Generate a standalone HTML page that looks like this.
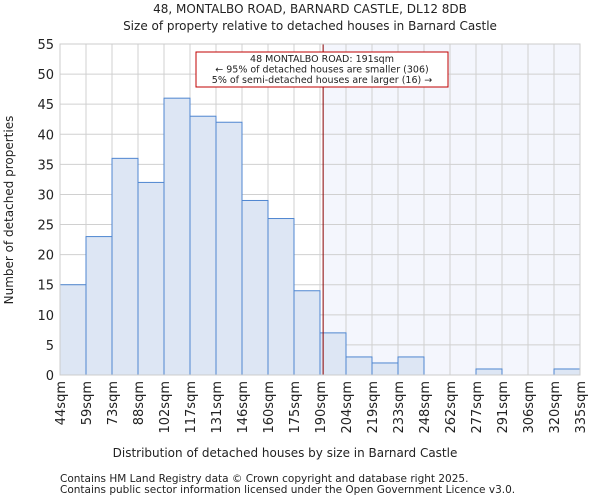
<!DOCTYPE html>
<html><head><meta charset="utf-8"><style>
body{margin:0;background:#fff;font-family:"DejaVu Sans","Liberation Sans",sans-serif}
svg text{font-family:"DejaVu Sans","Liberation Sans",sans-serif;fill:#222}
</style></head><body>
<svg id="c" width="600" height="500" xmlns="http://www.w3.org/2000/svg">
<text x="310" y="13" font-size="12" text-anchor="middle">48, MONTALBO ROAD, BARNARD CASTLE, DL12 8DB</text>
<text x="310" y="30" font-size="12" text-anchor="middle">Size of property relative to detached houses in Barnard Castle</text>
<g id="plot"></g>
<text x="285" y="457" font-size="12" text-anchor="middle">Distribution of detached houses by size in Barnard Castle</text>
<text transform="translate(13,210) rotate(-90)" font-size="12" text-anchor="middle">Number of detached properties</text>
<text x="60" y="482" font-size="10.5">Contains HM Land Registry data © Crown copyright and database right 2025.</text>
<text x="60" y="493" font-size="10.5">Contains public sector information licensed under the Open Government Licence v3.0.</text>
</svg>
<script>
const categories=["44sqm","59sqm","73sqm","88sqm","102sqm","117sqm","131sqm","146sqm","160sqm","175sqm","190sqm","204sqm","219sqm","233sqm","248sqm","262sqm","277sqm","291sqm","306sqm","320sqm","335sqm"];
const counts=[15,23,36,32,46,43,42,29,26,14,7,3,2,3,0,0,1,0,0,1];
const yTicks=[0,5,10,15,20,25,30,35,40,45,50,55];
const propertyBin=10.12;
const X0=60,X1=580,Y0=375,Y1=44,YMAX=55;
const bw=(X1-X0)/counts.length;
const x=i=>X0+i*bw;
const y=v=>Y0-(v/YMAX)*(Y0-Y1);
const NS="http://www.w3.org/2000/svg";
const g=document.getElementById('plot');
function mk(t,a){const e=document.createElementNS(NS,t);for(const k in a)e.setAttribute(k,a[k]);g.appendChild(e);return e;}
const px=x(propertyBin);
let e=mk('rect',{x:px,y:Y1,width:X1-px,height:Y0-Y1,fill:'#f4f6fd'});


for(const t of yTicks){e=mk('line',{x1:X0,x2:X1,y1:y(t),y2:y(t),stroke:'#d0d0d0'});


e=mk('text',{x:X0-6,y:y(t)+5,'font-size':13,'text-anchor':'end'});e.textContent=t;

}
for(let i=0;i<=counts.length;i++){e=mk('line',{x1:x(i),x2:x(i),y1:Y1,y2:Y0,stroke:'#d0d0d0'});


e=mk('text',{transform:`translate(${x(i)+5},${Y0+6}) rotate(-90)`,'font-size':13,'text-anchor':'end'});e.textContent=categories[i];

}
counts.forEach((v,i)=>{if(v<=0)return;e=mk('rect',{x:x(i),y:y(v),width:bw,height:Y0-y(v),fill:'#dde6f4',stroke:'#4f86d0','stroke-width':1});

});
e=mk('line',{x1:px,x2:px,y1:Y1,y2:Y0,stroke:'#8b0000','stroke-width':1});


e=mk('rect',{x:196,y:52,width:252,height:35,fill:'#fff',stroke:'#c00000'});


const lines=["48 MONTALBO ROAD: 191sqm","← 95% of detached houses are smaller (306)","5% of semi-detached houses are larger (16) →"];
lines.forEach((l,i)=>{e=mk('text',{x:322,y:62+i*10.5,'font-size':9.5,'text-anchor':'middle'});e.textContent=l;

});
e=mk('rect',{x:X0,y:Y1,width:X1-X0,height:Y0-Y1,fill:'none',stroke:'#ccc'});


</script>
</body></html>
